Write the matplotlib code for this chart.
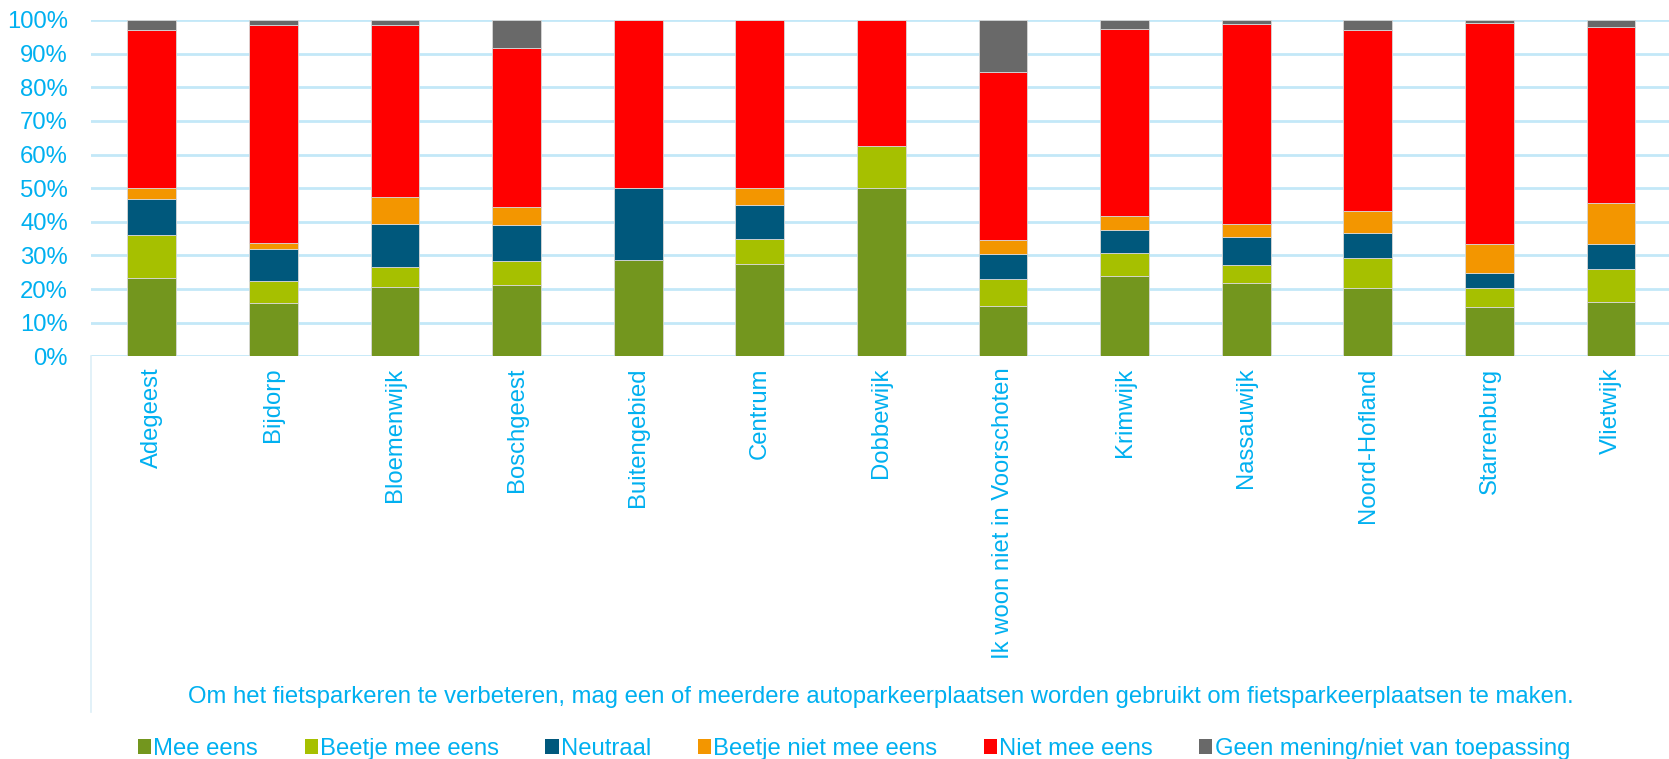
import numpy as np
import matplotlib.pyplot as plt
from matplotlib.patches import Patch
from matplotlib.lines import Line2D
from matplotlib.ticker import PercentFormatter

plt.rcParams['font.family'] = ['Liberation Sans', 'DejaVu Sans']

# data (percentages)
wijken = ['Adegeest', 'Bijdorp', 'Bloemenwijk', 'Boschgeest', 'Buitengebied',
          'Centrum', 'Dobbewijk', 'Ik woon niet in Voorschoten', 'Krimwijk',
          'Nassauwijk', 'Noord-Hofland', 'Starrenburg', 'Vlietwijk']
antwoorden = ['Mee eens', 'Beetje mee eens', 'Neutraal', 'Beetje niet mee eens',
              'Niet mee eens', 'Geen mening/niet van toepassing']

mee_eens = [23.2, 15.8, 20.5, 21.3, 28.6, 27.5, 50.0, 15.1, 24.0, 21.9, 20.2, 14.7, 16.0]
beetje_mee_eens = [12.9, 6.5, 6.2, 6.9, 0.0, 7.5, 12.5, 7.8, 6.8, 5.1, 9.0, 5.6, 9.9]
neutraal = [10.8, 9.7, 12.7, 10.7, 21.4, 10.0, 0.0, 7.5, 6.7, 8.5, 7.5, 4.6, 7.5]
beetje_niet = [3.0, 1.6, 8.0, 5.5, 0.0, 5.0, 0.0, 4.2, 4.2, 3.9, 6.5, 8.5, 12.2]
niet_mee_eens = [47.2, 64.9, 51.1, 47.4, 50.0, 50.0, 37.5, 50.0, 55.6, 59.5, 53.9, 65.8, 52.3]
geen_mening = [2.9, 1.5, 1.5, 8.2, 0.0, 0.0, 0.0, 15.4, 2.7, 1.1, 2.9, 0.8, 2.1]

series = [mee_eens, beetje_mee_eens, neutraal, beetje_niet, niet_mee_eens, geen_mening]
kleuren = ['#73961E', '#A6C000', '#00587C', '#F39600', '#FF0000', '#696969']

blauw = '#00B0F0'
grid_kleur = '#C3E8F8'
fs = 17.2

fig = plt.figure(figsize=(16.69, 7.59), dpi=100)
# plot area; right edge slightly cut off like the original
links, rechts = 91 / 1669, 1.0
onder, boven = 1 - 356.3 / 759, 1 - 20 / 759
ax = fig.add_axes([links, onder, rechts - links, boven - onder])

x = np.arange(len(wijken))
bodem = np.zeros(len(wijken))
for waarden, kleur in zip(series, kleuren):
    waarden = np.array(waarden)
    ax.bar(x, waarden, width=0.4, bottom=bodem, color=kleur,
           edgecolor='#D8D8D8', linewidth=0.6, zorder=3)
    bodem += waarden

slot = 121.6 / 1669 * 16.69  # inches per category
breedte_in = (rechts - links) * 16.69
ax.set_xlim(-0.5, -0.5 + breedte_in / slot)
ax.set_ylim(0, 100)
ax.set_yticks(np.arange(0, 101, 10))
ax.yaxis.set_major_formatter(PercentFormatter(decimals=0))
ax.set_xticks(x)
ax.set_xticklabels(wijken, rotation=90, va='top', ha='center')

ax.grid(axis='y', color=grid_kleur, linewidth=2.0, zorder=0)
ax.set_axisbelow(True)
for s in ax.spines.values():
    s.set_visible(False)
ax.tick_params(axis='both', length=0, labelsize=fs, colors=blauw)
ax.tick_params(axis='x', pad=8)
ax.tick_params(axis='y', pad=16.5)

# vertical line below the category axis
fig.add_artist(Line2D([links, links], [onder, 1 - 712 / 759],
                      color='#DDEFF7', linewidth=1.2, transform=fig.transFigure))

fig.text(881 / 1669, 1 - 697 / 759,
         'Om het fietsparkeren te verbeteren, mag een of meerdere autoparkeerplaatsen '
         'worden gebruikt om fietsparkeerplaatsen te maken.',
         color=blauw, fontsize=fs, ha='center', va='center')

handles = [Patch(facecolor=k, edgecolor='none') for k in kleuren]
leg = fig.legend(handles, antwoorden, loc='center', ncol=6,
                 bbox_to_anchor=(854 / 1669, 1 - 749 / 759), frameon=False,
                 fontsize=fs, handlelength=0.55, handleheight=0.55,
                 handletextpad=0.1, columnspacing=1.94)
for t in leg.get_texts():
    t.set_color(blauw)

fig.savefig('out.png', dpi=100)
